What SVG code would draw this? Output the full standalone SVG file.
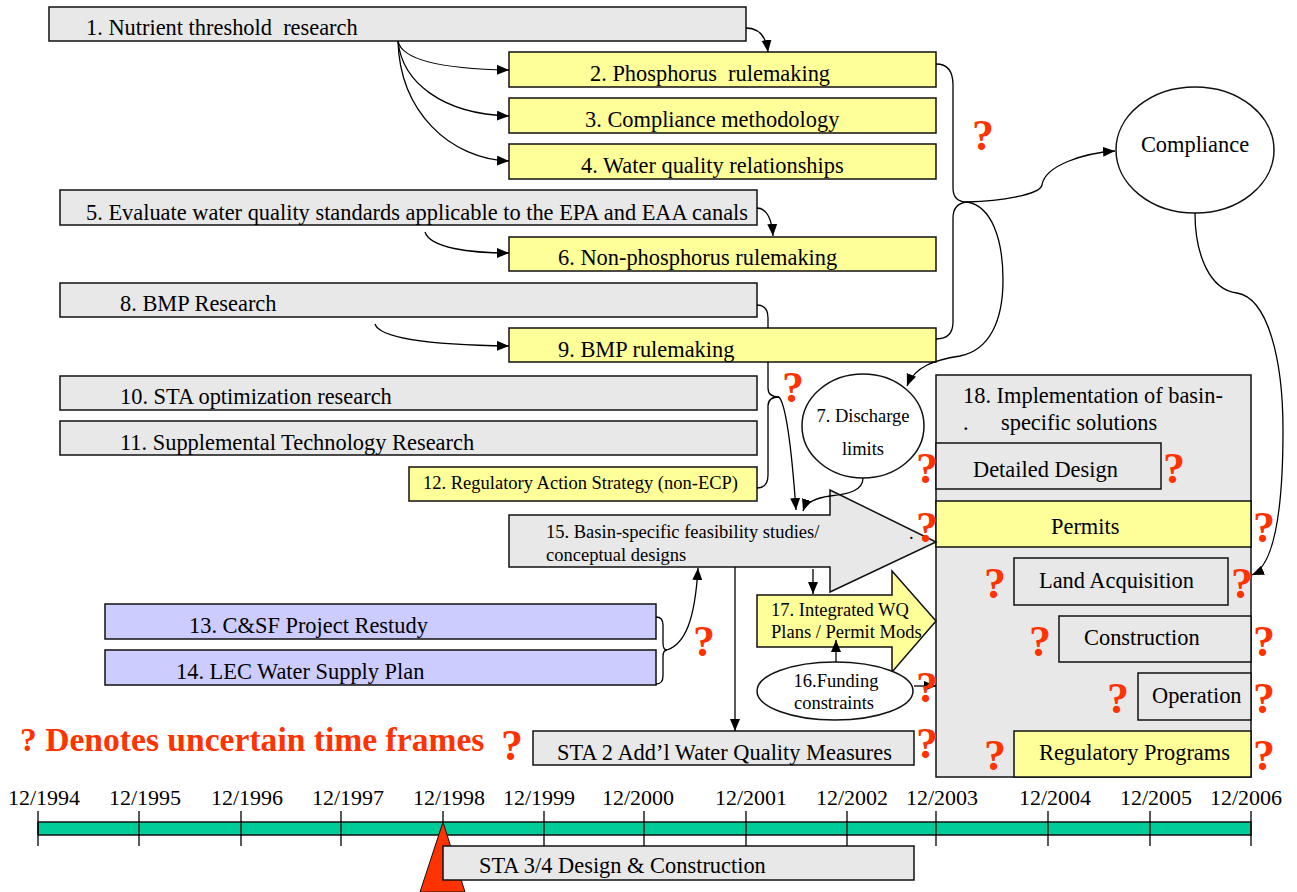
<svg xmlns="http://www.w3.org/2000/svg" width="1297" height="892" viewBox="0 0 1297 892">
<defs>
<marker id="ah" markerUnits="userSpaceOnUse" markerWidth="13" markerHeight="11" refX="12" refY="5" orient="auto">
<path d="M0,0 L12,5 L0,10 z" fill="#000"/>
</marker>
<style>
text{font-family:"Liberation Serif","Times New Roman",serif;fill:#000;}
.t{font-size:22.4px;}
.d{font-size:22px;}
.s{font-size:18.5px;}
.g{fill:#E8E8E8;stroke:#111;stroke-width:1.5;}
.y{fill:#FFFF99;stroke:#111;stroke-width:1.5;}
.p{fill:#CCCCFF;stroke:#111;stroke-width:1.5;}
.w{fill:#fff;stroke:#111;stroke-width:1.5;}
.q{font-size:44px;font-weight:bold;fill:#FF3300;text-anchor:middle;}
.c{fill:none;stroke:#000;stroke-width:1.3;}
.a{fill:none;stroke:#000;stroke-width:1.3;marker-end:url(#ah);}
.tick{stroke:#000;stroke-width:1.3;}
</style>
</defs>
<rect width="1297" height="892" fill="#fff"/>

<g id="n1"><rect class="g" x="49" y="7" width="697" height="34"/><text class="t" x="86" y="35" xml:space="preserve">1. Nutrient threshold  research</text></g>
<g id="n2"><rect class="y" x="509" y="52" width="427" height="35"/><text class="t" x="590" y="81" xml:space="preserve">2. Phosphorus  rulemaking</text></g>
<g id="n3"><rect class="y" x="509" y="98" width="427" height="35"/><text class="t" x="585" y="127">3. Compliance methodology</text></g>
<g id="n4"><rect class="y" x="509" y="144" width="427" height="35"/><text class="t" x="581" y="173">4. Water quality relationships</text></g>
<g id="n5"><rect class="g" x="60" y="190" width="697" height="35"/><text class="t" x="86" y="220">5. Evaluate water quality standards applicable to the EPA and EAA canals</text></g>
<g id="n6"><rect class="y" x="509" y="237" width="427" height="34"/><text class="t" x="558" y="265">6. Non-phosphorus rulemaking</text></g>
<g id="n8"><rect class="g" x="60" y="283" width="697" height="34"/><text class="t" x="120" y="311">8. BMP Research</text></g>
<g id="n9"><rect class="y" x="509" y="328" width="427" height="34"/><text class="t" x="558" y="357">9. BMP rulemaking</text></g>
<g id="n10"><rect class="g" x="60" y="376" width="697" height="34"/><text class="t" x="120" y="404">10. STA optimization research</text></g>
<g id="n11"><rect class="g" x="60" y="421" width="697" height="34"/><text class="t" x="120" y="450">11. Supplemental Technology Research</text></g>
<g id="n12"><rect class="y" x="409" y="467" width="348" height="34"/><text class="s" x="423" y="489">12. Regulatory Action Strategy (non-ECP)</text></g>
<g id="n7"><ellipse class="w" cx="863" cy="426" rx="61" ry="52"/><text class="s" x="863" y="422" text-anchor="middle">7. Discharge</text><text class="s" x="863" y="455" text-anchor="middle">limits</text></g>
<g id="compliance"><ellipse class="w" cx="1195" cy="150" rx="79" ry="63"/><text class="t" x="1195" y="152" text-anchor="middle">Compliance</text></g>

<g id="n18">
<rect class="g" x="936" y="375" width="315" height="402"/>
<text class="t" x="963" y="403">18. Implementation of basin-</text>
<text class="t" x="963" y="430">.</text>
<text class="t" x="1001" y="430">specific solutions</text>
<g id="detailed-design"><rect class="g" x="936" y="443" width="225" height="46"/><text class="t" x="973" y="477">Detailed Design</text></g>
<g id="permits"><rect class="y" x="936" y="501" width="315" height="46"/><text class="t" x="1051" y="534">Permits</text></g>
<g id="land-acquisition"><rect class="g" x="1014" y="558" width="214" height="47"/><text class="t" x="1039" y="588">Land Acquisition</text></g>
<g id="construction"><rect class="g" x="1059" y="616" width="192" height="46"/><text class="t" x="1084" y="645">Construction</text></g>
<g id="operation"><rect class="g" x="1138" y="673" width="113" height="47"/><text class="t" x="1152" y="703">Operation</text></g>
<g id="regulatory-programs"><rect class="y" x="1014" y="731" width="237" height="46"/><text class="t" x="1039" y="760">Regulatory Programs</text></g>
</g>

<g id="n15"><polygon class="g" points="509,515 830,515 830,490 936,542 830,592 830,567 509,567"/><text class="s" x="546" y="538">15. Basin-specific feasibility studies/</text><text class="s" x="546" y="561">conceptual designs</text><text class="s" x="909" y="539">.</text></g>
<g id="n17"><polygon class="y" points="757,595 892,595 892,571 936,621 892,672 892,647 757,647"/><text class="s" x="771" y="616">17. Integrated WQ</text><text class="s" x="771" y="638">Plans / Permit Mods</text></g>
<g id="n16"><ellipse class="w" cx="835" cy="691" rx="78" ry="29"/><text class="s" x="836" y="687" text-anchor="middle">16.Funding</text><text class="s" x="834" y="709" text-anchor="middle">constraints</text></g>
<g id="n13"><rect class="p" x="105" y="604" width="551" height="35"/><text class="t" x="189" y="633">13. C&amp;SF Project Restudy</text></g>
<g id="n14"><rect class="p" x="105" y="650" width="551" height="35"/><text class="t" x="176" y="679">14. LEC Water Supply Plan</text></g>
<g id="sta2"><rect class="g" x="533" y="731" width="381" height="34"/><text class="t" x="557" y="760">STA 2 Add’l Water Quality Measures</text></g>

<g id="connectors">
<path class="a" d="M746,28 C758,28 766,36 768,52"/>
<path class="a" d="M398,41 C402,62 450,69 509,70"/>
<path class="a" d="M398,41 C402,82 442,114 509,116"/>
<path class="a" d="M398,41 C400,112 450,159 509,161"/>
<path class="a" d="M757,208 C767,208 772,220 773,236"/>
<path class="a" d="M425,232 C430,248 470,253 509,253"/>
<path class="a" d="M375,324 C380,340 440,345 509,346"/>
<path class="c" d="M757,305 C765,305 768,310 768,318 L768,328"/>
<path class="c" d="M768,362 L768,388 C768,394 772,397 779,397"/>
<path class="c" d="M757,488 C765,488 768,483 768,475 L768,406 C768,400 772,397 779,397"/>
<path class="a" d="M779,397 C786,405 791,440 796,510"/>
<path class="c" d="M936,64 C948,64 953,72 953,85 L953,188 C953,197 958,202 967,202"/>
<path class="c" d="M936,339 C948,339 953,333 953,322 L953,218 C953,208 958,203 967,202"/>
<path class="a" d="M967,202 C1000,201 1040,195 1042,185 C1045,165 1085,153 1115,151"/>
<path class="a" d="M967,202 C992,206 1003,240 1003,280 C1003,320 990,350 960,356 C935,360 915,366 907,386"/>
<path class="a" d="M1195,213 C1195,255 1210,290 1237,293 C1268,298 1283,360 1283,430 C1283,510 1275,565 1252,575"/>
<path class="a" d="M863,478 C863,490 850,494 830,496 C815,498 806,502 803,511"/>
<path class="c" d="M656,617 C661,617 663,620 663,625 L663,643 C663,648 665,650 667,650"/>
<path class="c" d="M656,684 C661,684 663,681 663,676 L663,657 C663,652 665,650 667,650"/>
<path class="a" d="M667,650 C685,644 695,620 698,568"/>
<path class="a" d="M735,567 L735,731"/>
<path class="a" d="M813,569 L813,594"/>
<path class="a" d="M836,662 L836,640"/>
<path class="a" d="M914,686 L936,686"/>
</g>

<g id="question-marks">
<text class="q" x="983" y="150">?</text>
<text class="q" x="793" y="402">?</text>
<text class="q" x="704" y="656">?</text>
<text class="q" x="512" y="760">?</text>
<text class="q" x="927" y="483">?</text>
<text class="q" x="1174" y="483">?</text>
<text class="q" x="927" y="542">?</text>
<text class="q" x="1264" y="542">?</text>
<text class="q" x="995" y="598">?</text>
<text class="q" x="1242" y="598">?</text>
<text class="q" x="1040" y="656">?</text>
<text class="q" x="1264" y="656">?</text>
<text class="q" x="1118" y="713">?</text>
<text class="q" x="1264" y="713">?</text>
<text class="q" x="927" y="702">?</text>
<text class="q" x="927" y="758">?</text>
<text class="q" x="995" y="770">?</text>
<text class="q" x="1264" y="770">?</text>
</g>

<g id="legend"><text x="20" y="751" style="font-size:33.6px;font-weight:bold;fill:#FF3300;">? Denotes uncertain time frames</text></g>

<g id="timeline">
<rect x="38" y="822" width="1213" height="13" fill="#00CC99" stroke="#111" stroke-width="1.5"/>
<line class="tick" x1="38" y1="811" x2="38" y2="846"/>
<line class="tick" x1="139" y1="811" x2="139" y2="846"/>
<line class="tick" x1="241" y1="811" x2="241" y2="846"/>
<line class="tick" x1="341" y1="811" x2="341" y2="846"/>
<line class="tick" x1="443" y1="811" x2="443" y2="846"/>
<line class="tick" x1="544" y1="811" x2="544" y2="846"/>
<line class="tick" x1="644" y1="811" x2="644" y2="846"/>
<line class="tick" x1="746" y1="811" x2="746" y2="846"/>
<line class="tick" x1="847" y1="811" x2="847" y2="846"/>
<line class="tick" x1="936" y1="811" x2="936" y2="846"/>
<line class="tick" x1="1048" y1="811" x2="1048" y2="846"/>
<line class="tick" x1="1150" y1="811" x2="1150" y2="846"/>
<line class="tick" x1="1251" y1="811" x2="1251" y2="846"/>
<text class="d" x="8" y="805">12/1994</text>
<text class="d" x="109" y="805">12/1995</text>
<text class="d" x="211" y="805">12/1996</text>
<text class="d" x="312" y="805">12/1997</text>
<text class="d" x="413" y="805">12/1998</text>
<text class="d" x="503" y="805">12/1999</text>
<text class="d" x="602" y="805">12/2000</text>
<text class="d" x="715" y="805">12/2001</text>
<text class="d" x="816" y="805">12/2002</text>
<text class="d" x="906" y="805">12/2003</text>
<text class="d" x="1019" y="805">12/2004</text>
<text class="d" x="1120" y="805">12/2005</text>
<text class="d" x="1210" y="805">12/2006</text>
</g>
<g id="sta34-marker"><polygon points="443,822 420,892 465,892" fill="#FF3300" stroke="#111" stroke-width="1"/></g>
<g id="sta34"><rect class="g" x="443" y="846" width="471" height="34"/><text class="t" x="479" y="873">STA 3/4 Design &amp; Construction</text></g>
</svg>
